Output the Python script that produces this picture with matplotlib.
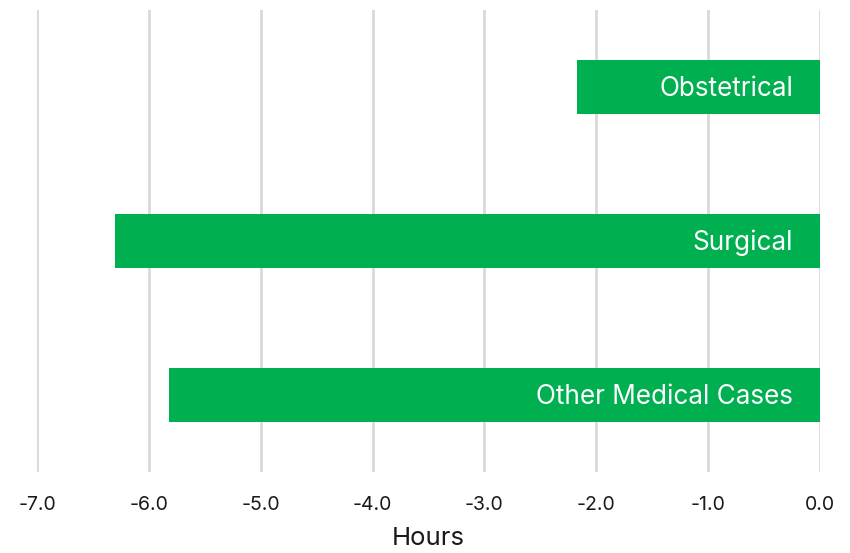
import matplotlib
matplotlib.use("Agg")
import matplotlib.pyplot as plt

categories = ["Obstetrical", "Surgical", "Other Medical Cases"]
values = [-2.17, -6.30, -5.82]
xticks = [-7.0, -6.0, -5.0, -4.0, -3.0, -2.0, -1.0, 0.0]

plt.rcParams['font.family'] = ['Inter', 'DejaVu Sans']

fig = plt.figure(figsize=(8.5, 5.53), dpi=100)
ax = fig.add_axes([37/850, 1-472/553, (820-37)/850, (472-10)/553])

y = list(range(len(categories)))
bars = ax.barh(y, values, height=0.345, color="#00B050", zorder=3)
ax.set_ylim(len(categories)-0.5, -0.5)
ax.set_xlim(-7, 0)
ax.set_xticks(xticks)
ax.set_xticklabels([f"{t:.1f}" for t in xticks], fontsize=14, color="#1a1a1a")
ax.set_yticks([])
ax.grid(axis="x", color="#D9D9D9", linewidth=2, zorder=0)
for s in ax.spines.values():
    s.set_visible(False)
ax.tick_params(axis="x", length=0, pad=17.5)
ax.set_xlabel("Hours", fontsize=18.5, color="#1a1a1a", labelpad=9)

for yi, cat in zip(y, categories):
    ax.annotate(cat, xy=(0, yi), xytext=(-27, -2), textcoords="offset pixels",
                ha="right", va="center", color="white", fontsize=18.8)

fig.savefig("out.png", dpi=100)
